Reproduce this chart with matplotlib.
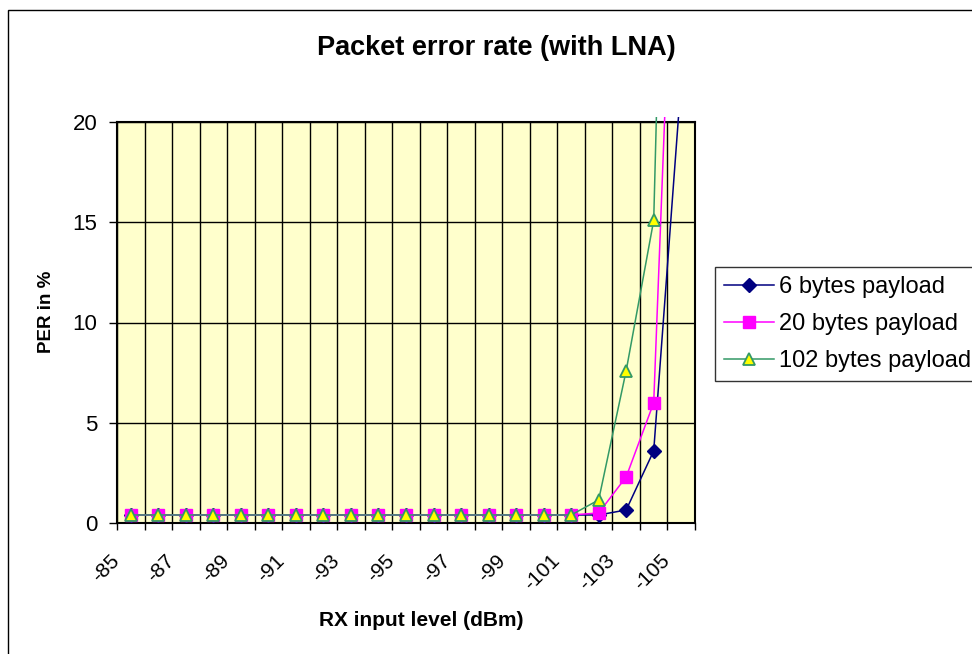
import numpy as np
import matplotlib.pyplot as plt
from matplotlib.patches import Rectangle
from matplotlib.transforms import Bbox, TransformedBbox, ScaledTranslation

plt.rcParams['font.family'] = ['Liberation Sans', 'DejaVu Sans']

# RX input level categories (dBm)
rx_levels = [-85, -86, -87, -88, -89, -90, -91, -92, -93, -94, -95,
             -96, -97, -98, -99, -100, -101, -102, -103, -104, -105]

# PER in % for each payload size
per_6 = [0.4] * 17 + [0.4, 0.65, 3.6, 22.1]
per_20 = [0.4] * 17 + [0.5, 2.3, 6.0, 41.7]
per_102 = [0.4] * 17 + [1.15, 7.6, 15.1, 68.0]

series_names = ['6 bytes payload', '20 bytes payload', '102 bytes payload']

fig = plt.figure(figsize=(9.72, 6.54), dpi=100)
ax = fig.add_axes([117 / 972, 1 - 523 / 654, 578 / 972, 401 / 654])
ax.set_facecolor('#FFFFCC')

x = np.arange(len(rx_levels))

l1, = ax.plot(x, per_6, color='#000080', lw=1.1, marker='D', ms=7.5,
              mfc='#000080', mec='#000080', label=series_names[0], zorder=3)
l2, = ax.plot(x, per_20, color='#FF00FF', lw=1.1, marker='s', ms=8.5,
              mfc='#FF00FF', mec='#FF00FF', label=series_names[1], zorder=4)
l3, = ax.plot(x, per_102, color='#339966', lw=1.1, marker='^', ms=8.5,
              mfc='#FFFF00', mec='#339966', mew=1.3, label=series_names[2], zorder=5)

# lines run a few pixels past the top of the plot area, like the original
clip = TransformedBbox(Bbox([[0, 0], [1, 1.013]]), ax.transAxes)
for ln in (l1, l2, l3):
    ln.set_clip_box(clip)

ax.set_xlim(-0.5, len(rx_levels) - 0.5)
ax.set_ylim(0, 20)

# category boundaries: gridlines and tick marks
ax.set_xticks(np.arange(len(rx_levels) + 1) - 0.5)
ax.set_xticklabels([])
ax.tick_params(axis='x', which='major', direction='out', length=5, width=1)
# labels every other category
ax.set_xticks(x[::2], minor=True)
lbls = ax.set_xticklabels([str(v) for v in rx_levels[::2]], minor=True,
                          rotation=45, ha='right', va='center',
                          rotation_mode='anchor', fontsize=15)
ax.tick_params(axis='x', which='minor', length=0, pad=25)
off = ScaledTranslation(-14 / 100, 0, fig.dpi_scale_trans)
for t in lbls:
    t.set_transform(t.get_transform() + off)

ax.set_yticks([0, 5, 10, 15, 20])
ax.tick_params(axis='y', direction='out', length=6, width=1, labelsize=16, pad=8)

ax.grid(True, which='major', color='black', lw=1)
ax.set_axisbelow(True)
for s in ax.spines.values():
    s.set_color('black')
    s.set_linewidth(1.5)

fig.text(496 / 972, 1 - 48 / 654, 'Packet error rate (with LNA)',
         ha='center', va='center', fontsize=19.5, fontweight='bold')
fig.text(421 / 972, 1 - 620 / 654, 'RX input level (dBm)',
         ha='center', va='center', fontsize=15, fontweight='bold')
fig.text(46 / 972, 1 - 312 / 654, 'PER in %', rotation=90,
         ha='center', va='center', fontsize=13.5, fontweight='bold')

leg = fig.legend(handles=[l1, l2, l3], loc='upper left',
                 bbox_to_anchor=(715 / 972, 1 - 267 / 654), borderaxespad=0,
                 fontsize=17, frameon=True, fancybox=False, edgecolor='black',
                 handlelength=2.1, handletextpad=0.25, labelspacing=0.64,
                 borderpad=0.38)
leg.get_frame().set_linewidth(1)

# outer chart border (runs off the right and bottom edges)
fig.patches.append(Rectangle((8 / 972, -0.1), 2, 1 - 10 / 654 + 0.1,
                             transform=fig.transFigure, fill=False,
                             edgecolor='black', lw=1))

fig.savefig('out.png', dpi=100)
